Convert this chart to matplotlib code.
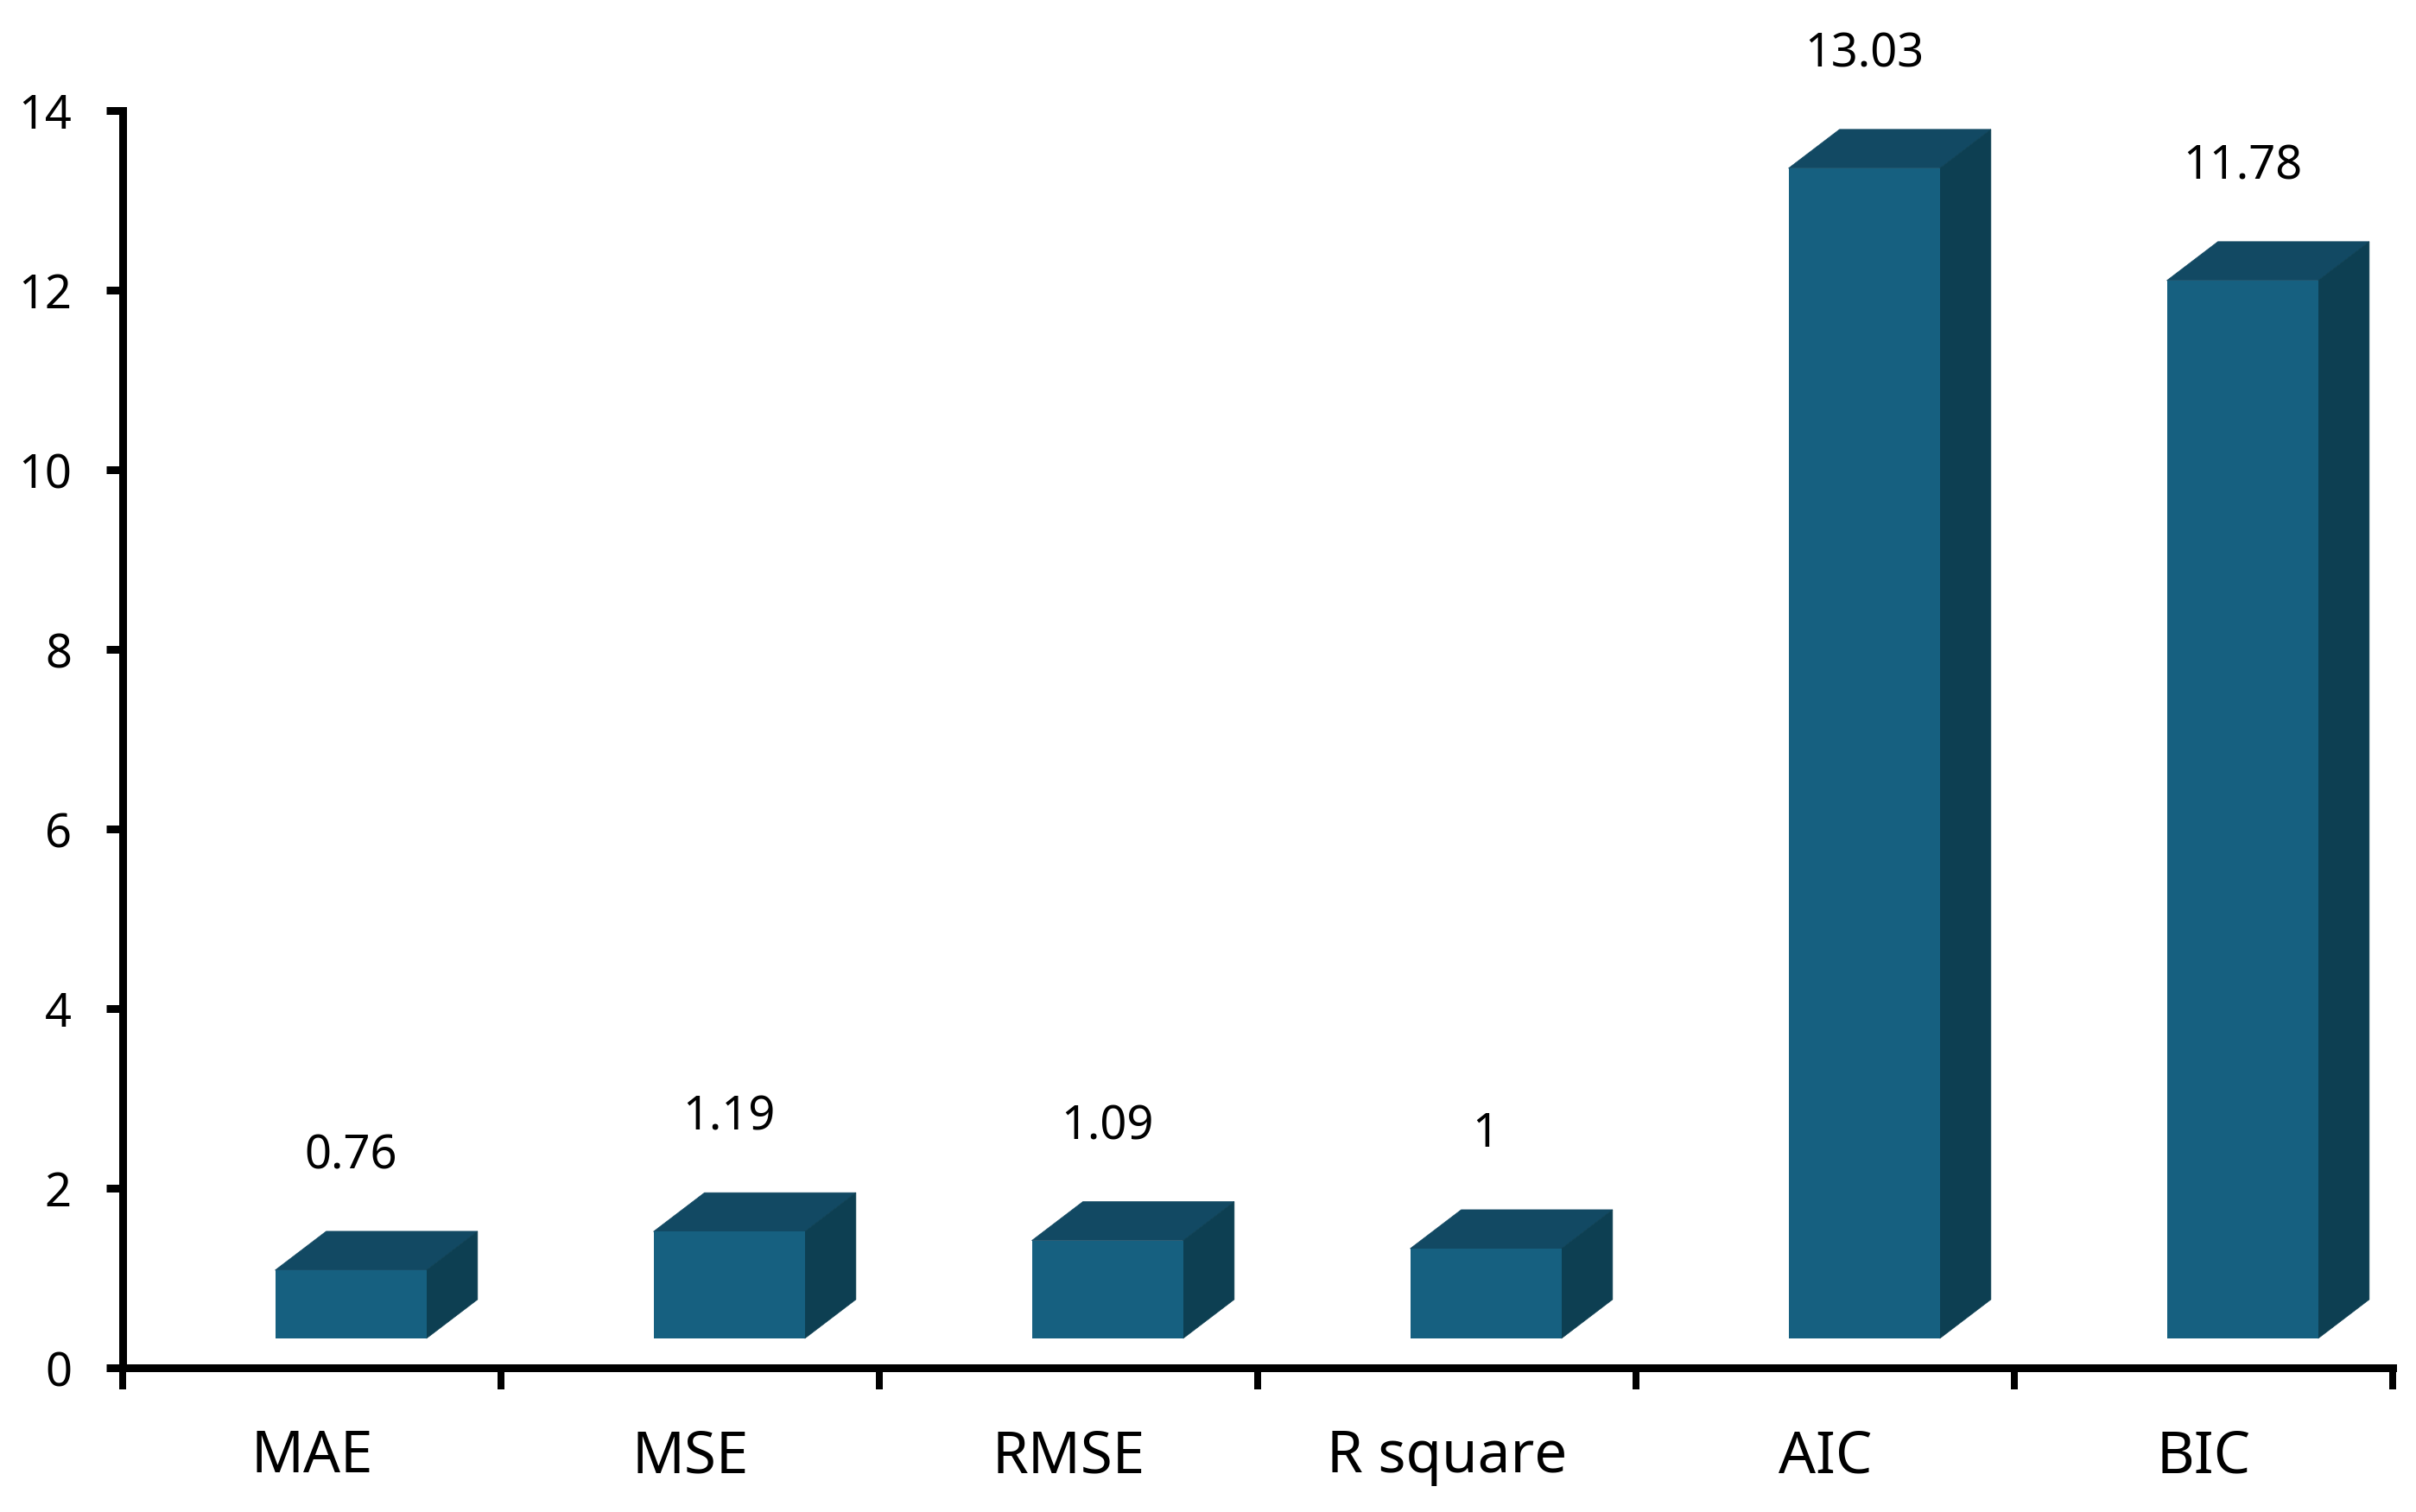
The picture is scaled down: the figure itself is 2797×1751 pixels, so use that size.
import numpy as np
import matplotlib
matplotlib.use('Agg')
import matplotlib.pyplot as plt
from matplotlib.patches import Polygon

plt.rcParams['font.family'] = ['Noto Sans', 'DejaVu Sans']

# metrics
categories = ['MAE', 'MSE', 'RMSE', 'R square', 'AIC', 'BIC']
values = [0.76, 1.19, 1.09, 1, 13.03, 11.78]
yticks = [0, 2, 4, 6, 8, 10, 12, 14]

W, H = 2797, 1751
dpi = 100
PX = 72 / dpi  # points per pixel

# fake 3D box, all in axis units
base = 0.327
bar_width = 0.40
bar_shift = 0.103
depth_x = 0.135
depth_y = 0.433

front_color = '#166080'
top_color = '#124963'
side_color = '#0D3F52'

fig = plt.figure(figsize=(W / dpi, H / dpi), dpi=dpi, facecolor='white')
ax = fig.add_axes([142 / W, 1 - 1584 / H, (2770 - 142) / W, (1584 - 128) / H])

x = np.arange(len(categories)) + 0.5 + bar_shift
vals = np.array(values, dtype=float)

ax.bar(x, vals, bar_width, bottom=base, color=front_color, linewidth=0, clip_on=False, zorder=3)

for xc, v in zip(x, vals):
    x0 = xc - bar_width / 2
    x1 = xc + bar_width / 2
    y0 = base
    y1 = base + v
    top = Polygon([(x0, y1), (x1, y1), (x1 + depth_x, y1 + depth_y), (x0 + depth_x, y1 + depth_y)],
                  closed=True, facecolor=top_color, edgecolor=top_color, linewidth=0.5, clip_on=False, zorder=2)
    side = Polygon([(x1, y0), (x1 + depth_x, y0 + depth_y), (x1 + depth_x, y1 + depth_y), (x1, y1)],
                   closed=True, facecolor=side_color, edgecolor=side_color, linewidth=0.5, clip_on=False, zorder=2.5)
    ax.add_patch(top)
    ax.add_patch(side)

for xc, v in zip(x, vals):
    ax.annotate('%g' % v, xy=(xc, base + v), xytext=(0, 132), textcoords='offset pixels',
                ha='center', va='center', fontsize=39, color='black', annotation_clip=False)

ax.set_xlim(0, 6)
ax.set_ylim(0, 14)
ax.set_yticks(yticks)
ax.set_xticks(np.arange(0, 7))
ax.set_xticklabels([])
ax.set_xticks(np.arange(len(categories)) + 0.5, minor=True)
ax.set_xticklabels(categories, minor=True)

ax.tick_params(axis='x', which='major', length=25 * PX, width=8 * PX, color='black')
ax.tick_params(axis='x', which='minor', length=0, pad=69 * PX, labelsize=48.5)
ax.tick_params(axis='y', which='major', length=19 * PX, width=9 * PX, pad=40 * PX, labelsize=39)

ax.spines['top'].set_visible(False)
ax.spines['right'].set_visible(False)
ax.spines['left'].set_linewidth(9 * PX)
ax.spines['bottom'].set_linewidth(9 * PX)

fig.savefig('out.png', dpi=dpi)
